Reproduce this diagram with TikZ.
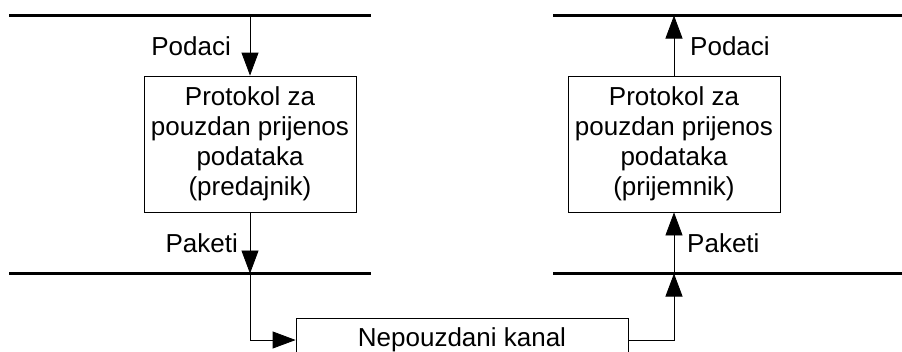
\documentclass[tikz,border=0pt]{standalone}
\usepackage{fontspec}
\setmainfont{Liberation Sans}
\usetikzlibrary{arrows.meta}
\begin{document}
\begin{tikzpicture}[x=1pt,y=-1pt,
  bus/.style={line width=3pt},
  proc/.style={draw, line width=0.8pt, minimum width=212pt, minimum height=136pt,
    align=center, font=\fontsize{26}{30}\selectfont, inner sep=0pt},
  lbl/.style={font=\fontsize{26}{30}\selectfont, inner sep=0pt},
  conn/.style={line width=0.8pt, -{Triangle[length=23pt,width=17pt]}}]
\useasboundingbox (0,0) rectangle (902,351);
% buses
\coordinate (lt1) at (9,15.5);   \coordinate (lt2) at (371,15.5);
\coordinate (lb1) at (9,273.5);  \coordinate (lb2) at (371,273.5);
\coordinate (rt1) at (553,15.5); \coordinate (rt2) at (905,15.5);
\coordinate (rb1) at (553,273.5);\coordinate (rb2) at (905,273.5);
\draw[bus] (lt1) -- (lt2);
\draw[bus] (lb1) -- (lb2);
\draw[bus] (rt1) -- (rt2);
\draw[bus] (rb1) -- (rb2);
\coordinate (ltop) at (250,15.5);
\coordinate (lbus) at (250,273.5);
\coordinate (rtop) at (674,15.5);
\coordinate (rbus) at (674,273.5);
% boxes
\node[proc] (tx) at (250,144) {Protokol za\\pouzdan prijenos\\podataka\\(predajnik)};
\node[proc] (rx) at (674,144) {Protokol za\\pouzdan prijenos\\podataka\\(prijemnik)};
\node[draw, line width=0.8pt, minimum width=332pt, minimum height=44pt, inner sep=0pt,
      font=\fontsize{26}{30}\selectfont] (ch) at (462,340) {\raisebox{-3pt}{Nepouzdani kanal}};
% connectors
\draw[conn] (ltop) -- (tx.north);
\draw[conn] (tx.south) -- (lbus);
\draw[conn] (lbus) |- (ch.west);
\draw[conn] (ch.east) -| (rbus);
\draw[conn] (rbus) -- (rx.south);
\draw[conn] (rx.north) -- (rtop);
% labels
\node[lbl, anchor=east] (l1) at (231,46) {Podaci};
\node[lbl, anchor=east] (l2) at (238,243) {Paketi};
\node[lbl, anchor=west] (l3) at (690,46) {Podaci};
\node[lbl, anchor=west] (l4) at (687,243) {Paketi};
\end{tikzpicture}
\end{document}
